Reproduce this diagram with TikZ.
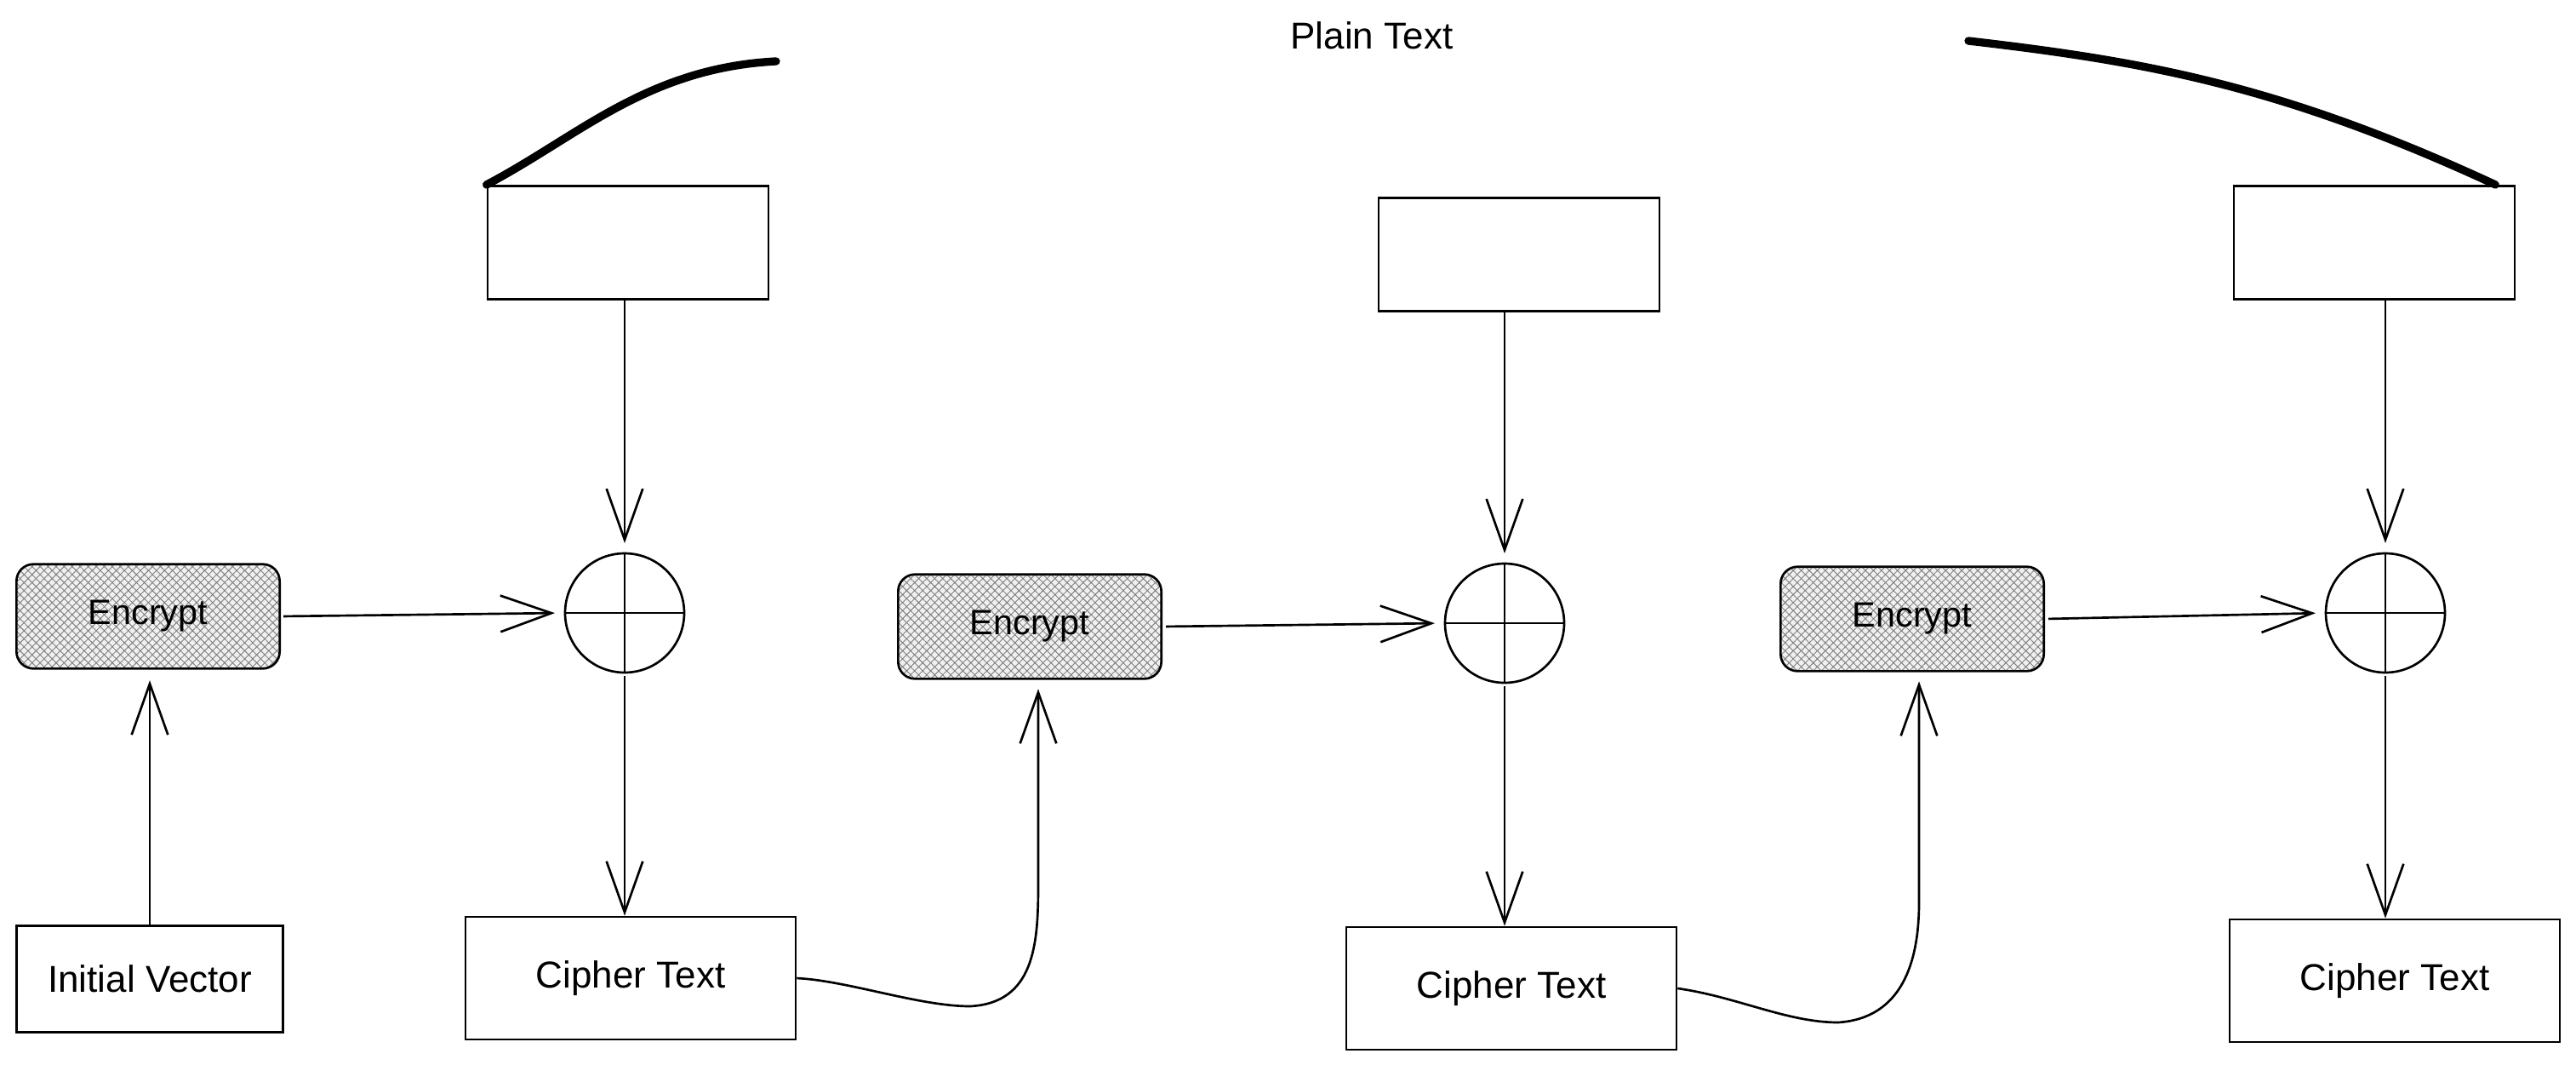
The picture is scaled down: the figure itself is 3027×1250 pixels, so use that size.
\documentclass[tikz,border=0pt]{standalone}
\usepackage{fontspec}
\setmainfont{Liberation Sans}
\usetikzlibrary{arrows.meta,patterns.meta}

\tikzset{every picture/.style={line width=0.75pt}}
\tikzset{
	blk/.style={draw, line width=2pt, inner sep=0pt, font=\fontsize{33}{40}\selectfont},
	ptbox/.style={blk, minimum width=247.5pt, minimum height=100pt},
	ctbox/.style={blk, minimum width=291pt, minimum height=108pt},
	ivbox/.style={blk, minimum width=235pt, minimum height=94pt},
	encbox/.style={blk, rounded corners=15pt, minimum width=232pt, minimum height=92pt,
		preaction={fill=gray!12}, pattern={Hatch[angle=45,distance=5pt,line width=0.7pt]},
		pattern color=black!50, font=\fontsize{31}{37}\selectfont},
	xorc/.style={draw, circle, line width=2pt, minimum size=105pt, inner sep=0pt},
	arr/.style={line width=2pt, -{Straight Barb[length=45pt,width=32pt,line width=2pt]}},
	stroke/.style={line width=7pt, line cap=round},
}

\begin{document}
\begin{tikzpicture}[x=0.75pt,y=0.75pt,yscale=-1,xscale=1]
	\useasboundingbox (0,0) rectangle (3027,1250);

	% Text Node
	\node [encbox] (enc1) at (174,724) {Encrypt};
	% Text Node
	\node [ivbox] (iv) at (176,1150) {Initial Vector};
	%Shape: Circle
	\node [xorc] (xor1) at (734,720) {};
	%Shape: Rectangle
	\node [ptbox] (pt1) at (738,285) {};
	% Text Node
	\node [ctbox] (ct1) at (741,1149) {Cipher Text};

	% Text Node
	\node [encbox] (enc2) at (1210,736) {Encrypt};
	%Shape: Circle
	\node [xorc] (xor2) at (1768,732) {};
	%Shape: Rectangle
	\node [ptbox] (pt2) at (1785,299) {};
	% Text Node
	\node [ctbox] (ct2) at (1776,1161) {Cipher Text};

	% Text Node
	\node [encbox] (enc3) at (2247,727) {Encrypt};
	%Shape: Circle
	\node [xorc] (xor3) at (2803,720) {};
	%Shape: Rectangle
	\node [ptbox] (pt3) at (2790,285) {};
	% Text Node
	\node [ctbox] (ct3) at (2814,1152) {Cipher Text};

	% Text Node
	\node [font=\fontsize{33}{40}\selectfont] (plain) at (1612,42) {Plain Text};

	%Straight Lines
	\draw [line width=2pt] (xor1.north) -- (xor1.south) (xor1.west) -- (xor1.east);
	\draw [line width=2pt] (xor2.north) -- (xor2.south) (xor2.west) -- (xor2.east);
	\draw [line width=2pt] (xor3.north) -- (xor3.south) (xor3.west) -- (xor3.east);

	%Straight Lines
	\draw [arr, shorten >=10pt] (iv.north) -- (iv.north |- enc1.south);
	\draw [arr, shorten <=3pt, shorten >=8pt] (enc1.east) -- (xor1.west);
	\draw [arr, shorten >=8pt] (xor1 |- pt1.south) -- (xor1.north);
	\draw [arr, shorten <=2pt] (xor1.south) -- (xor1 |- ct1.north);
	%Straight Lines
	\draw [arr, shorten <=3pt, shorten >=8pt] (enc2.east) -- (xor2.west);
	\draw [arr, shorten >=8pt] (xor2 |- pt2.south) -- (xor2.north);
	\draw [arr, shorten <=2pt] (xor2.south) -- (xor2 |- ct2.north);
	%Straight Lines
	\draw [arr, shorten <=3pt, shorten >=8pt] (enc3.east) -- (xor3.west);
	\draw [arr, shorten >=8pt] (xor3 |- pt3.south) -- (xor3.north);
	\draw [arr, shorten <=2pt] (xor3.south) -- (xor3 |- ct3.north);

	%Curve Lines
	\coordinate (dip1) at (1140,1182);
	\coordinate (bend1) at (1220,1040);
	\draw [arr, shorten >=8pt] (ct1.east) .. controls +(60,3) and +(-60,0) .. (dip1) .. controls +(75,-4) and +(0,70) .. (bend1) -- (bend1 |- enc2.south);
	%Curve Lines
	\coordinate (dip2) at (2160,1201);
	\coordinate (bend2) at (2255,1060);
	\draw [arr, shorten >=8pt] (ct2.east) .. controls +(70,10) and +(-60,0) .. (dip2) .. controls +(75,-5) and +(0,70) .. (bend2) -- (bend2 |- enc3.south);

	%Curve Lines
	\coordinate (lend) at (912,72);
	\draw [stroke] (pt1.north west) .. controls (680,160) and (760,80) .. (lend);
	\coordinate (rstart) at (2313,48);
	\draw [stroke] (rstart) .. controls (2520,72) and (2680,100) .. ([xshift=-18pt]pt3.north east);

\end{tikzpicture}
\end{document}
